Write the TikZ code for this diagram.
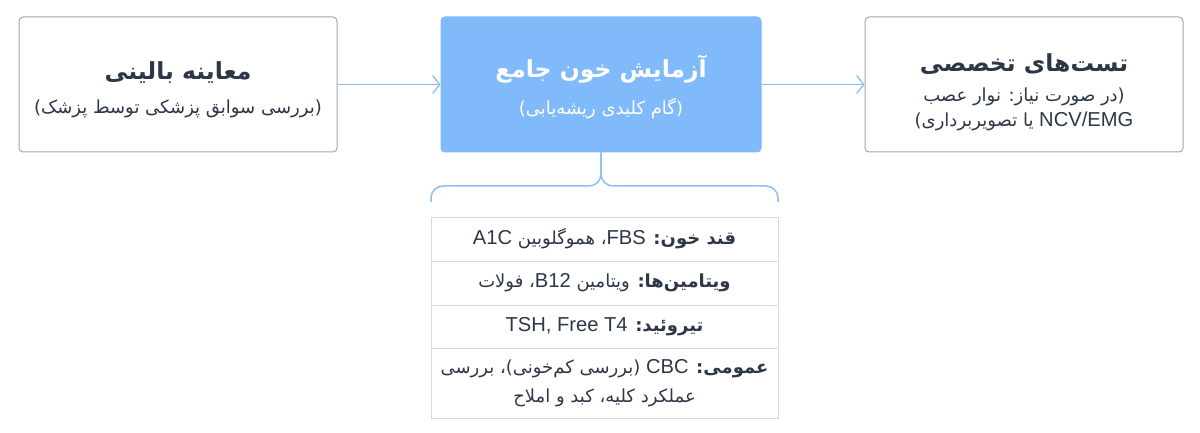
\documentclass[tikz,border=0pt]{standalone}
\usepackage{fontspec}
\usetikzlibrary{arrows.meta}
\TeXXeTstate=1
\newfontfamily\fa[Script=Arabic]{DejaVu Sans}
\newfontfamily\lat[Scale=1.12]{Liberation Sans}
\definecolor{boxgray}{RGB}{160,168,178}
\definecolor{keyblue}{RGB}{128,186,250}
\definecolor{arrowblue}{RGB}{140,190,240}
\definecolor{rowgray}{RGB}{214,219,225}
\definecolor{textdark}{RGB}{45,55,72}
\newcommand{\ttl}{\fontsize{23.5}{30}\selectfont\bfseries}
\newcommand{\sub}{\fontsize{18}{25}\selectfont}

\begin{document}
\begin{tikzpicture}[x=1pt,y=-1pt,
    stepbox/.style={draw=boxgray,line width=1pt,rounded corners=4pt,fill=white,
        minimum width=318pt,minimum height=135pt},
    keybox/.style={stepbox,draw=keyblue,fill=keyblue,minimum width=320pt},
    steptext/.style={align=center,text=textdark,inner sep=0pt,font=\fa\fontsize{18}{25}\selectfont},
    flow/.style={draw=arrowblue,line width=1.3pt,-{Straight Barb[length=7pt,width=18pt]}},
    brace/.style={draw=arrowblue,line width=1.5pt,rounded corners=12pt},
    testrow/.style={draw=rowgray,line width=0.8pt,minimum width=347pt,align=center,
        text=textdark,inner sep=0pt,font=\fa\fontsize{18}{28.5}\selectfont}]

            \useasboundingbox (0,0) rectangle (1200,433);

            % three steps
            \path   (178,84.5) node (exam) [stepbox] {}
                    (601,84.5) node (blood) [keybox] {}
                    (1024,84.5) node (special) [stepbox] {};

            \path   (178,89.5) node (examtxt) [steptext]
                        {{\ttl\beginR معاینه بالینی\endR}\\[9pt]
                         {\sub\beginR (بررسی سوابق پزشکی توسط پزشک)\endR}}
                    (601,87) node (bloodtxt) [steptext,text=white]
                        {{\ttl\beginR آزمایش خون جامع\endR}\\[12pt]
                         {\sub\beginR (گام کلیدی ریشه^^^^200cیابی)\endR}}
                    (1024,92) node (specialtxt) [steptext]
                        {{\ttl\beginR تست^^^^200cهای تخصصی\endR}\\[5pt]
                         {\sub\beginR (در صورت نیاز: نوار عصب\endR}\\
                         {\sub\beginR {\lat NCV/EMG} یا تصویربرداری)\endR}};

            \draw[flow] (exam) -- (blood);
            \draw[flow] (blood) -- (special);

            % tests of the blood panel
            \path   (604.5,239) node (sugar) [testrow,minimum height=44pt]
                        {\beginR{\bfseries قند خون:} {\lat FBS}{}، هموگلوبین {\lat A1C}\endR}
                    (604.5,283) node (vitamin) [testrow,minimum height=44pt]
                        {\beginR{\bfseries ویتامین^^^^200cها:} ویتامین {\lat B12}{}، فولات\endR}
                    (604.5,326.5) node (thyroid) [testrow,minimum height=43pt]
                        {\beginR{\bfseries تیروئید:} {\lat\beginL TSH, Free T4\endL}\endR}
                    (604.5,383) node (general) [testrow,minimum height=70pt]
                        {\beginR{\bfseries عمومی:} {\lat CBC} (بررسی کم^^^^200cخونی)، بررسی\endR\\
                         \beginR عملکرد کلیه، کبد و املاح\endR};

            \coordinate (braceL) at (431,202);
            \coordinate (braceR) at (778,202);
            \coordinate (braceM) at (601,186);
            \draw[brace] (braceL) |- (braceM) -- (blood.south);
            \draw[brace] (braceR) |- (braceM) -- (blood.south);

\end{tikzpicture}
\end{document}
